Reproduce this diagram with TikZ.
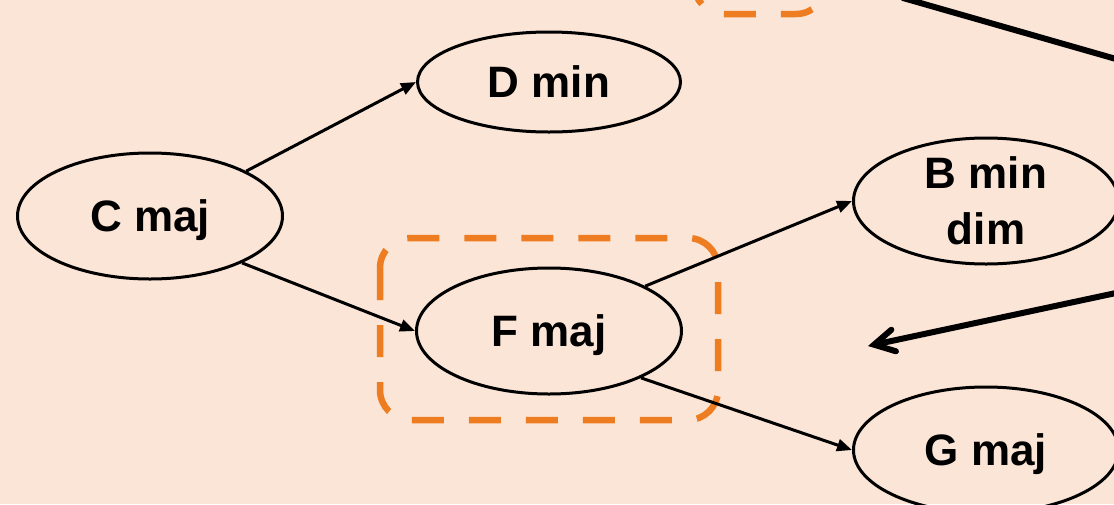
\documentclass[tikz,border=0pt]{standalone}
\usepackage{fontspec}
\setmainfont{Liberation Sans}
\usetikzlibrary{shapes.geometric,arrows.meta}
\definecolor{bgpeach}{HTML}{FBE5D6}
\definecolor{dashorange}{HTML}{EE7D22}
\tikzset{
  chord/.style={draw=black, line width=3pt, ellipse, minimum width=265pt, minimum height=126pt, inner sep=0pt, text depth=0pt, align=center, font=\fontsize{44}{56}\selectfont\bfseries},
  link/.style={draw=black, line width=3pt, -{Triangle[length=15pt,width=12pt]}},
  group/.style={draw=dashorange, line width=6.5pt, dash pattern=on 32pt off 25pt, rounded corners=30pt},
  heavy/.style={draw=black, line width=6pt, line cap=round},
}
\begin{document}
\begin{tikzpicture}[x=1pt,y=-1pt]
\useasboundingbox (0,0) rectangle (1114,504);
\fill[bgpeach] (0,0) rectangle (1114,504);
% groups
\draw[group] (380,238) rectangle (718,420);
\draw[group] (694,-170) rectangle (826,14);
% nodes
\node[chord] (C) at (150,216) {C maj};
\node[chord, minimum height=100pt, minimum width=263pt] (D) at (549,82) {D min};
\node[chord] (F) at (549,331) {F maj};
\node[chord] (B) at (986,201) {B min\\dim};
\node[chord] (G) at (986,450) {G maj};
% connectors
\draw[link] (C.25) -- (D.west);
\draw[link] (C.-27) -- (F.west);
\draw[link] (F.25) -- (B.west);
\draw[link] (F.-27) -- (G.west);
% heavy lines
\coordinate (t1) at (903,-2);
\coordinate (t2) at (1130,63);
\draw[heavy] (t1) -- (t2);
\coordinate (r1) at (1130,290);
\coordinate (r2) at (868,346);
\draw[heavy, -{Straight Barb[length=20pt,width=22pt,line cap=round]}] (r1) -- (r2);
\end{tikzpicture}
\end{document}
